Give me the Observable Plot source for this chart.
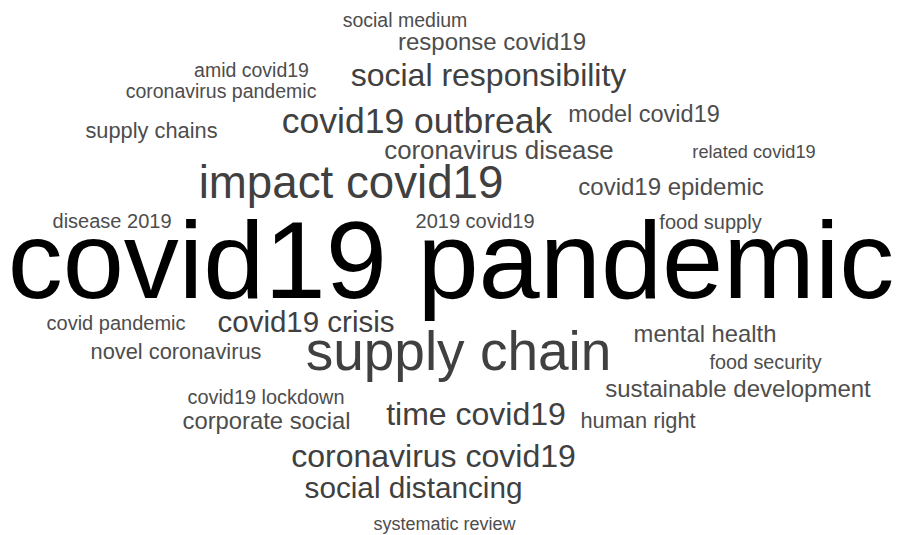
<!DOCTYPE html>
<html>
<head>
<meta charset="utf-8">
<script src="https://cdn.jsdelivr.net/npm/d3@7"></script>
<script src="https://cdn.jsdelivr.net/npm/@observablehq/plot@0.6"></script>
<style>
  html, body { margin: 0; padding: 0; background: #fff; }
  #chart svg { display: block; }
</style>
</head>
<body>
<div id="chart"></div>
<script>
// Terms of the word cloud
const words = [
  "social medium", "response covid19", "amid covid19", "social responsibility",
  "coronavirus pandemic", "model covid19", "covid19 outbreak", "supply chains",
  "related covid19", "coronavirus disease", "impact covid19", "covid19 epidemic",
  "disease 2019", "2019 covid19", "food supply", "covid19 pandemic",
  "covid pandemic", "covid19 crisis", "mental health", "novel coronavirus",
  "supply chain", "food security", "sustainable development", "covid19 lockdown",
  "time covid19", "corporate social", "human right", "coronavirus covid19",
  "social distancing", "systematic review"
];
// Relative weight of each term (rendered text size)
const weights = [
  19.5, 24, 19.5, 32,
  19.5, 23.5, 35.5, 21.8,
  18.2, 25.8, 45.7, 24,
  20, 20, 20, 110,
  20, 29.5, 23.8, 21.8,
  55, 19.8, 24, 19.9,
  32, 23.8, 21.8, 32,
  29.7, 18
];
// Cloud layout coordinates (term centre, baseline)
const cloudX = [
  404.5, 491.5, 251, 488,
  220.5, 643.5, 416.5, 151,
  753.5, 498.5, 350.5, 670.5,
  111.5, 474.5, 710, 450.5,
  115.5, 305.5, 704.5, 175.5,
  458, 765, 737.5, 265.5,
  475.5, 266, 637.5, 433,
  413, 444
];
const cloudY = [
  26, 49, 76, 85,
  97, 121, 132, 137,
  157, 158, 197, 194,
  227, 227, 228, 297,
  329, 331, 341, 358,
  369, 368, 396, 403,
  424, 428, 427, 466,
  497, 529
];

const table = words.map((w, i) => ({word: w, size: weights[i], x: cloudX[i], y: cloudY[i]}));

const chart = Plot.plot({
  width: 898,
  height: 535,
  margin: 0,
  x: {domain: [0, 898], range: [0, 898], axis: null},
  y: {domain: [0, 535], range: [0, 535], axis: null},
  style: {background: "#fff"},
  marks: [
    Plot.text(table, {
      x: "x",
      y: "y",
      text: "word",
      fontSize: "size",
      textAnchor: "middle",
      lineAnchor: "bottom",
      fontFamily: "'Liberation Sans', Arial, sans-serif",
      fill: d => d.size > 100 ? "#000000" : d.size >= 29 ? "#404040" : "#4d4d4d"
    })
  ]
});
document.getElementById("chart").appendChild(chart);
</script>
</body>
</html>
